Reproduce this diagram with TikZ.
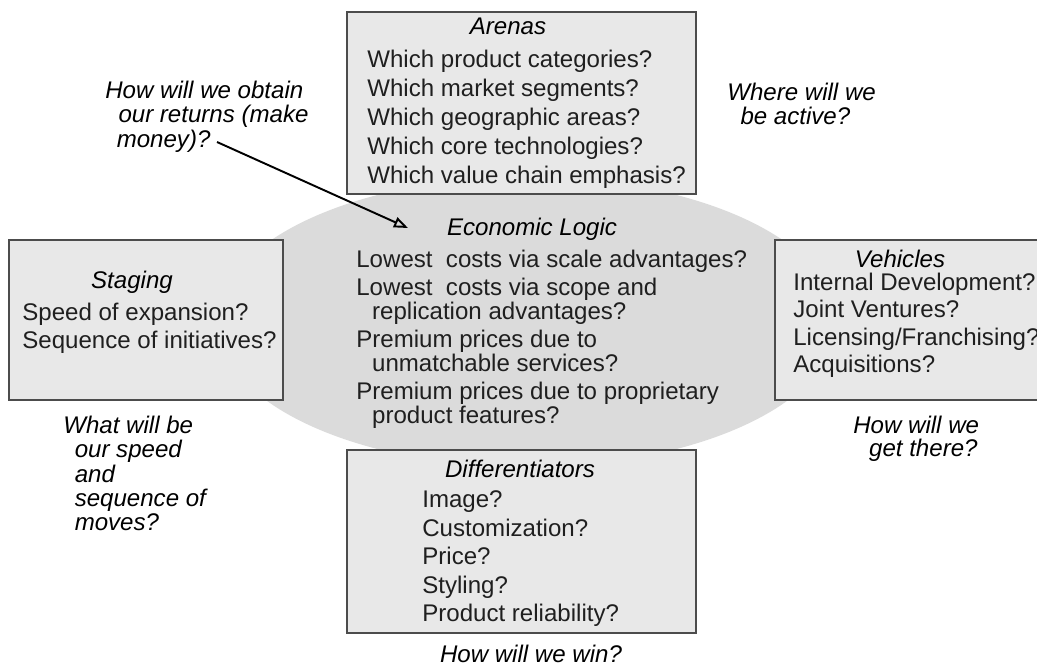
\documentclass[tikz,border=0pt]{standalone}
\usepackage{fontspec}
\setmainfont{Liberation Sans}
\usetikzlibrary{arrows.meta, positioning, shapes.geometric}

\begin{document}
\begin{tikzpicture}[x=0.02cm,y=-0.02cm,
  box/.style={rectangle,draw=black!70,line width=1pt,fill=black!9,inner sep=0pt},
  head/.style={anchor=base,inner sep=0pt,font=\fontsize{13.7}{16}\selectfont\itshape},
  items/.style={anchor=north west,align=left,inner sep=0pt,text=black!88},
  ask/.style={anchor=north west,align=left,inner sep=0pt,font=\fontsize{13.7}{13.9}\selectfont\itshape},
  arr/.style={-{Triangle[open,length=8pt,width=6pt]},line width=1.1pt}
]
  \useasboundingbox (0,0) rectangle (1037,669);

  % grey oval behind everything
  \node[ellipse,fill=black!14,inner sep=0pt,minimum width=12.4cm,minimum height=5.8cm] (oval) at (527,322) {};

  % the four boxes
  \node[box,minimum width=6.98cm,minimum height=3.64cm] (arenas) at (521.5,103) {};
  \node[box,minimum width=5.48cm,minimum height=3.2cm] (staging) at (146,320) {};
  \node[box,minimum width=5.3cm,minimum height=3.2cm] (vehicles) at (907.5,320) {};
  \node[box,minimum width=6.98cm,minimum height=3.66cm] (diff) at (521.5,541.5) {};

  % box contents
  \node[head] (arenast) at (508,35) {Arenas};
  \node[items,font=\fontsize{13.7}{16.5}\selectfont] (arenasl) at (367,49.5)
    {Which product categories?\\Which market segments?\\Which geographic areas?\\Which core technologies?\\Which value chain emphasis?};
  \node[head] (stagingt) at (132,288) {Staging};
  \node[items,font=\fontsize{13.7}{15.9}\selectfont] (stagingl) at (22,302.5)
    {Speed of expansion?\\Sequence of initiatives?};
  \node[head] (vehiclest) at (900,267) {Vehicles};
  \node[items,font=\fontsize{13.7}{15.65}\selectfont] (vehiclesl) at (793,272.5)
    {Internal Development?\\Joint Ventures?\\Licensing/Franchising?\\Acquisitions?};
  \node[head] (difft) at (520,477) {Differentiators};
  \node[items,font=\fontsize{13.7}{16.2}\selectfont] (diffl) at (422,490.5)
    {Image?\\Customization?\\Price?\\Styling?\\Product reliability?};
  \node[head] (elogic) at (532,235) {Economic Logic};
  \node[items,font=\fontsize{13.7}{13.4}\selectfont] (elogicl) at (356,249.5)
    {Lowest~ costs via scale advantages?\\[2.8pt]
     Lowest~ costs via scope and\\\hspace*{9pt}replication advantages?\\[2.8pt]
     Premium prices due to\\\hspace*{9pt}unmatchable services?\\[2.8pt]
     Premium prices due to proprietary\\\hspace*{9pt}product features?};

  % questions around
  \node[ask] (obtainq) at (105,80.5)
    {How will we obtain\\\hspace*{7.5pt}our returns (make\\\hspace*{6.5pt}money)?};
  \node[ask] (whereq) at (727,82.5) {Where will we\\\hspace*{7.5pt}be active?};
  \node[ask] (speedq) at (63,415.5)
    {What will be\\\hspace*{6.5pt}our speed\\\hspace*{6.5pt}and\\\hspace*{6.5pt}sequence of\\\hspace*{6.5pt}moves?};
  \node[ask,font=\fontsize{13.7}{13.1}\selectfont\itshape] (thereq) at (853,415.5) {How will we\\\hspace*{9pt}get there?};
  \node[head,font=\fontsize{13.7}{16}\selectfont\itshape] (winq) at (531,662) {How will we win?};

  \coordinate (moneyend) at (217,142);
  \coordinate (logictip) at (408,228);
  \draw[arr] (moneyend) -- (logictip);
\end{tikzpicture}
\end{document}
